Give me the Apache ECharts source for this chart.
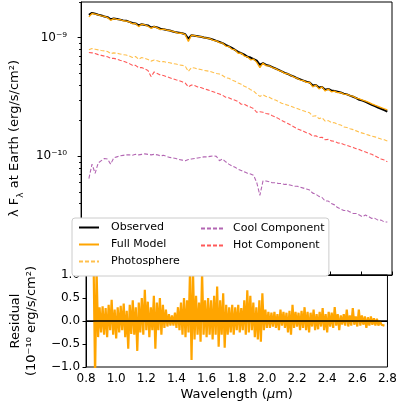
<!DOCTYPE html>
<html>
<head>
<meta charset="utf-8">
<script src="https://cdn.jsdelivr.net/npm/echarts@6/dist/echarts.min.js"></script>
<style>
  html, body { margin: 0; padding: 0; background: #fff; }
  #chart { width: 400px; height: 403px; }
</style>
</head>
<body>
<div id="chart"></div>
<script>
// spectra, in units of 1e-10 erg/s/cm2, sampled every 0.02 um from 0.85 um
const specStart = 0.85;
const specStep = 0.02;
const observed = [
  15.6, 16.2, 15.9, 15.6, 15.4, 15.1, 14.9, 14.3, 14.5, 14.4,
  14.2, 14.0, 13.9, 13.6, 13.3, 13.2, 12.7, 13.0, 12.8, 12.7,
  12.2, 12.4, 12.2, 11.9, 11.8, 11.6, 11.5, 11.3, 11.1, 11.0,
  10.9, 10.7, 9.8, 10.5, 10.4, 10.3, 10.2, 10.05, 9.95, 9.8,
  9.6, 9.4, 9.2, 9.0, 8.7, 8.45, 8.2, 7.9, 7.6, 7.4,
  7.2, 6.9, 6.8, 6.6, 6.4, 5.9, 6.1, 5.9, 5.8, 5.65,
  5.5, 5.35, 5.2, 5.05, 4.95, 4.8, 4.7, 4.55, 4.45, 4.35,
  4.25, 4.2, 3.95, 4.0, 3.8, 3.85, 3.65, 3.7, 3.6, 3.55,
  3.5, 3.45, 3.38, 3.33, 3.25, 3.18, 3.1, 3.0, 2.95, 2.88,
  2.8, 2.72, 2.65, 2.58, 2.52, 2.45, 2.38
];
const fullModel = [
  15.0, 16.0, 15.8, 15.6, 15.3, 15.1, 14.8, 14.0, 14.5, 14.3,
  14.2, 13.9, 13.8, 13.6, 13.1, 13.2, 12.4, 13.0, 12.8, 12.5,
  12.0, 12.4, 12.1, 11.7, 11.8, 11.6, 11.5, 11.3, 11.1, 10.9,
  10.9, 10.6, 9.3, 10.5, 10.4, 10.2, 10.2, 10.0, 9.9, 9.8,
  9.5, 9.4, 9.1, 9.0, 8.5, 8.45, 8.0, 7.9, 7.4, 7.4,
  7.0, 6.9, 6.5, 6.6, 6.2, 5.6, 6.1, 5.8, 5.8, 5.6,
  5.5, 5.3, 5.2, 5.0, 4.95, 4.8, 4.65, 4.55, 4.4, 4.35,
  4.2, 4.2, 3.85, 4.0, 3.7, 3.85, 3.55, 3.7, 3.5, 3.55,
  3.45, 3.45, 3.35, 3.33, 3.25, 3.2, 3.1, 3.05, 2.98, 2.92,
  2.85, 2.77, 2.7, 2.64, 2.58, 2.52, 2.46
];
const photosphere = [
  7.9, 8.1, 8.0, 7.9, 7.8, 7.75, 7.65, 7.35, 7.45, 7.4,
  7.3, 7.2, 7.15, 7.0, 6.8, 6.95, 6.6, 6.8, 6.7, 6.55,
  6.35, 6.5, 6.4, 6.25, 6.3, 6.2, 6.15, 6.05, 6.0, 5.9,
  5.85, 5.75, 5.2, 5.6, 5.55, 5.45, 5.4, 5.3, 5.25, 5.2,
  5.1, 5.0, 4.95, 4.8, 4.6, 4.55, 4.4, 4.3, 4.15, 4.05,
  3.9, 3.8, 3.65, 3.55, 3.35, 3.2, 3.3, 3.2, 3.15, 3.05,
  2.98, 2.9, 2.8, 2.75, 2.7, 2.65, 2.58, 2.53, 2.47, 2.42,
  2.37, 2.33, 2.18, 2.2, 2.08, 2.12, 1.98, 2.0, 1.93, 1.92,
  1.86, 1.84, 1.77, 1.75, 1.71, 1.68, 1.64, 1.6, 1.57, 1.54,
  1.51, 1.48, 1.46, 1.43, 1.4, 1.38, 1.35
];
const coolComponent = [
  0.65, 0.86, 0.72, 0.88, 0.92, 0.96, 0.95, 0.86, 0.97, 0.99,
  1.01, 1.02, 1.03, 1.03, 1.02, 1.04, 1.03, 1.04, 1.05, 1.04,
  1.03, 1.04, 1.03, 1.01, 1.02, 1.0, 0.98, 0.97, 0.96, 0.94,
  0.93, 0.92, 0.94, 0.95, 0.96, 0.97, 0.98, 0.99, 0.99, 1.0,
  1.01, 1.0, 0.92, 0.95, 0.9, 0.86, 0.83, 0.81, 0.78, 0.76,
  0.74, 0.72, 0.71, 0.69, 0.6, 0.47, 0.62, 0.62, 0.61, 0.6,
  0.6, 0.59, 0.59, 0.58, 0.58, 0.57, 0.56, 0.56, 0.55, 0.54,
  0.53, 0.52, 0.49, 0.48, 0.46, 0.45, 0.42, 0.42, 0.4, 0.39,
  0.37, 0.36, 0.35, 0.35, 0.34, 0.33, 0.33, 0.32, 0.31, 0.32,
  0.31, 0.3, 0.3, 0.29, 0.29, 0.28, 0.28
];
const hotComponent = [
  7.5, 7.45, 7.35, 7.2, 7.1, 7.0, 6.9, 6.7, 6.7, 6.6,
  6.45, 6.35, 6.2, 6.05, 5.85, 5.85, 5.6, 5.6, 5.45, 5.3,
  4.7, 5.15, 5.0, 4.85, 4.8, 4.7, 4.6, 4.5, 4.42, 4.35,
  4.25, 4.15, 3.85, 4.0, 3.95, 3.85, 3.8, 3.72, 3.65, 3.58,
  3.5, 3.42, 3.35, 3.27, 3.15, 3.12, 3.03, 2.97, 2.9, 2.75,
  2.75, 2.66, 2.6, 2.52, 2.35, 2.38, 2.35, 2.3, 2.27, 2.2,
  2.15, 2.08, 2.01, 1.95, 1.89, 1.83, 1.77, 1.71, 1.67, 1.63,
  1.58, 1.55, 1.48, 1.49, 1.44, 1.45, 1.38, 1.39, 1.35, 1.34,
  1.3, 1.29, 1.26, 1.24, 1.21, 1.19, 1.16, 1.14, 1.11, 1.09,
  1.06, 1.04, 1.01, 0.98, 0.95, 0.93, 0.9
];

// residual (observed - model), units of 1e-10, every 0.01 um from 0.85 um
const resStart = 0.85;
const resStep = 0.01;
const residual = [
  1.3, -1.2, 1.1, -0.35, 0.3, -0.25, 0.32, -0.3, 0.28, -0.35,
  0.35, -0.2, 0.46, -0.3, 0.25, -0.38, 0.3, -0.25, 0.33, -0.2,
  0.38, -0.35, 0.22, -0.6, 0.35, -0.28, 0.45, -0.3, 0.3, -0.65,
  0.4, -0.25, 0.5, -0.3, 0.68, -0.2, 0.42, -0.35, 0.3, -0.2,
  0.55, -0.6, 0.4, -0.2, 0.5, -0.3, 0.35, -0.15, 0.25, -0.12,
  0.15, -0.1, 0.12, -0.1, 0.18, -0.15, 0.3, -0.2, 0.4, -0.3,
  0.5, -0.35, 0.45, -0.25, 1.1, -0.85, 1.05, -0.4, 0.55, -0.3,
  0.4, -0.45, 1.05, -0.3, 0.45, -0.35, 0.5, -0.3, 0.45, -0.4,
  0.55, -0.3, 0.75, -0.56, 0.45, -0.3, 0.6, -0.58, 0.35, -0.3,
  0.3, -0.25, 0.35, -0.3, 0.3, -0.2, 0.35, -0.25, 0.28, -0.2,
  0.45, -0.3, 0.67, -0.25, 0.55, -0.2, 0.4, -0.35, 0.3, -0.4,
  0.45, -0.45, 0.6, -0.2, 0.25, -0.15, 0.2, -0.15, 0.18, -0.12,
  0.2, -0.15, 0.15, -0.2, 0.25, -0.1, 0.2, -0.15, 0.18, -0.25,
  0.22, -0.3, 0.35, -0.15, 0.2, -0.12, 0.18, -0.2, 0.22, -0.15,
  0.3, -0.2, 0.2, -0.25, 0.18, -0.12, 0.25, -0.2, 0.15, -0.18,
  0.2, -0.12, 0.28, -0.2, 0.15, -0.25, 0.2, -0.12, 0.18, -0.15,
  0.3, -0.1, 0.15, -0.2, 0.12, -0.08, 0.15, -0.1, 0.25, -0.12,
  0.12, -0.1, 0.28, -0.08, 0.1, -0.12, 0.25, -0.1, 0.12, -0.08,
  0.1, -0.15, 0.08, -0.1, 0.1, -0.08, 0.06, -0.1, 0.05, -0.1,
  0.0, -0.08, -0.05, -0.1
];

// log axis ticks
const logMajor = [1e-10, 1e-9];
const logMinor = [2e-11, 3e-11, 4e-11, 5e-11, 6e-11, 7e-11, 8e-11, 9e-11,
  2e-10, 3e-10, 4e-10, 5e-10, 6e-10, 7e-10, 8e-10, 9e-10, 2e-9];

const FONT = 'DejaVu Sans';
const SUP = {'-': '⁻', '0': '⁰', '1': '¹', '2': '²', '3': '³', '4': '⁴',
  '5': '⁵', '6': '⁶', '7': '⁷', '8': '⁸', '9': '⁹'};

function pow10(v) {
  const e = Math.round(Math.log10(v));
  return '10' + String(e).split('').map(c => SUP[c]).join('');
}

function toPoints(arr, start, step, scale) {
  return arr.map((v, i) => [+(start + i * step).toFixed(3), v * scale]);
}

const chart = echarts.init(document.getElementById('chart'));

const tickStyle = { color: '#000', width: 1 };
const legendText = { fontSize: 11, fontFamily: FONT, color: '#000' };
const photoColor = 'rgba(255,165,0,0.7)';
const coolColor = 'rgba(128,0,128,0.6)';
const hotColor = 'rgba(255,0,0,0.65)';

chart.setOption({
  animation: false,
  textStyle: { fontFamily: FONT },
  grid: [
    { left: 69, right: 8, top: 2, height: 273, show: true, borderColor: '#000', borderWidth: 1 },
    { left: 69, right: 8, top: 275, height: 92, show: true, borderColor: '#000', borderWidth: 1 }
  ],
  legend: [
    {
      data: ['Observed', 'Full Model', 'Photosphere'],
      orient: 'vertical',
      left: 72, top: 218,
      itemWidth: 20, itemHeight: 10, itemGap: 6,
      padding: [4, 149, 9, 6],
      backgroundColor: '#fff', borderColor: '#ccc', borderWidth: 1, borderRadius: 3,
      itemStyle: { opacity: 0 },
      textStyle: Object.assign({ padding: [0, 0, 0, 7] }, legendText)
    },
    {
      data: ['Cool Component', 'Hot Component'],
      orient: 'vertical',
      left: 200, top: 223,
      itemWidth: 22, itemHeight: 10, itemGap: 6,
      padding: 0, z: 10,
      itemStyle: { opacity: 0 },
      textStyle: Object.assign({ padding: [0, 0, 0, 5] }, legendText)
    }
  ],
  xAxis: [
    {
      type: 'value', gridIndex: 0, min: 0.8, max: 2.8, interval: 0.2,
      axisLine: { lineStyle: { color: '#000' } },
      axisTick: { inside: true, length: 3.5, lineStyle: tickStyle },
      axisLabel: { show: false },
      splitLine: { show: false }
    },
    {
      type: 'value', gridIndex: 1, min: 0.8, max: 2.8, interval: 0.2,
      name: 'Wavelength ({it|μ}m)', nameLocation: 'middle', nameGap: 21,
      nameTextStyle: { fontSize: 13, color: '#000', fontFamily: FONT,
        rich: { it: { fontSize: 13, fontStyle: 'italic', fontFamily: FONT, color: '#000' } } },
      axisLine: { lineStyle: { color: '#000' } },
      axisTick: { length: 3.5, lineStyle: tickStyle },
      axisLabel: { color: '#000', fontSize: 12, margin: 6, formatter: v => v.toFixed(1) },
      splitLine: { show: false }
    }
  ],
  yAxis: [
    {
      type: 'log', logBase: 10, gridIndex: 0, min: 1e-11, max: 2e-9,
      position: 'left',
      name: 'λ F{sub|λ} at Earth (erg/s/cm²)', nameLocation: 'middle', nameGap: 43,
      nameTextStyle: { fontSize: 13, color: '#000', fontFamily: FONT,
        rich: { sub: { fontSize: 9, color: '#000', fontFamily: FONT, verticalAlign: 'bottom', padding: [0, 0, -4, 0] } } },
      axisLine: { lineStyle: { color: '#000' } },
      axisTick: { length: 3.5, lineStyle: tickStyle, customValues: logMajor },
      axisLabel: { color: '#000', fontSize: 12, margin: 14, customValues: logMajor,
        formatter: v => pow10(v) },
      splitLine: { show: false }
    },
    {
      // minor ticks of the log axis
      type: 'log', logBase: 10, gridIndex: 0, min: 1e-11, max: 2e-9,
      position: 'left', offset: 0,
      axisLine: { show: false },
      axisTick: { length: 2, lineStyle: tickStyle, customValues: logMinor },
      axisLabel: { show: false },
      splitLine: { show: false }
    },
    {
      type: 'value', gridIndex: 1, min: -1, max: 1, interval: 0.5,
      position: 'left',
      name: 'Residual\n(10⁻¹⁰ erg/s/cm²)', nameLocation: 'middle', nameGap: 38,
      nameTextStyle: { fontSize: 13, color: '#000', fontFamily: FONT, lineHeight: 16 },
      axisLine: { lineStyle: { color: '#000' } },
      axisTick: { length: 3.5, lineStyle: tickStyle },
      axisLabel: { color: '#000', fontSize: 12, margin: 6,
        formatter: v => v.toFixed(1).replace('-', '−') },
      splitLine: { show: false }
    }
  ],
  series: [
    {
      name: 'Observed', type: 'line', xAxisIndex: 0, yAxisIndex: 0, symbol: 'none',
      data: toPoints(observed, specStart, specStep, 1e-10),
      lineStyle: { color: '#000', width: 2 }, itemStyle: { color: '#000' }
    },
    {
      name: 'Full Model', type: 'line', xAxisIndex: 0, yAxisIndex: 0, symbol: 'none',
      data: toPoints(fullModel, specStart, specStep, 1e-10),
      lineStyle: { color: '#FFA500', width: 1.3 }, itemStyle: { color: '#FFA500' }
    },
    {
      name: 'Photosphere', type: 'line', xAxisIndex: 0, yAxisIndex: 0, symbol: 'none',
      data: toPoints(photosphere, specStart, specStep, 1e-10),
      lineStyle: { color: photoColor, width: 1.1, type: [4, 2] },
      itemStyle: { color: photoColor }
    },
    {
      name: 'Cool Component', type: 'line', xAxisIndex: 0, yAxisIndex: 0, symbol: 'none',
      data: toPoints(coolComponent, specStart, specStep, 1e-10),
      lineStyle: { color: coolColor, width: 1.1, type: [4, 2] },
      itemStyle: { color: coolColor }
    },
    {
      name: 'Hot Component', type: 'line', xAxisIndex: 0, yAxisIndex: 0, symbol: 'none',
      data: toPoints(hotComponent, specStart, specStep, 1e-10),
      lineStyle: { color: hotColor, width: 1.1, type: [4, 2] },
      itemStyle: { color: hotColor }
    },
    {
      name: 'Residual', type: 'line', xAxisIndex: 1, yAxisIndex: 2, symbol: 'none',
      data: toPoints(residual, resStart, resStep, 1),
      lineStyle: { color: '#FFA500', width: 2.2 }, itemStyle: { color: '#FFA500' },
      markLine: {
        silent: true, symbol: 'none', label: { show: false },
        lineStyle: { color: '#000', width: 1.5, type: 'solid' },
        data: [{ yAxis: 0 }]
      }
    }
  ]
});
</script>
</body>
</html>
